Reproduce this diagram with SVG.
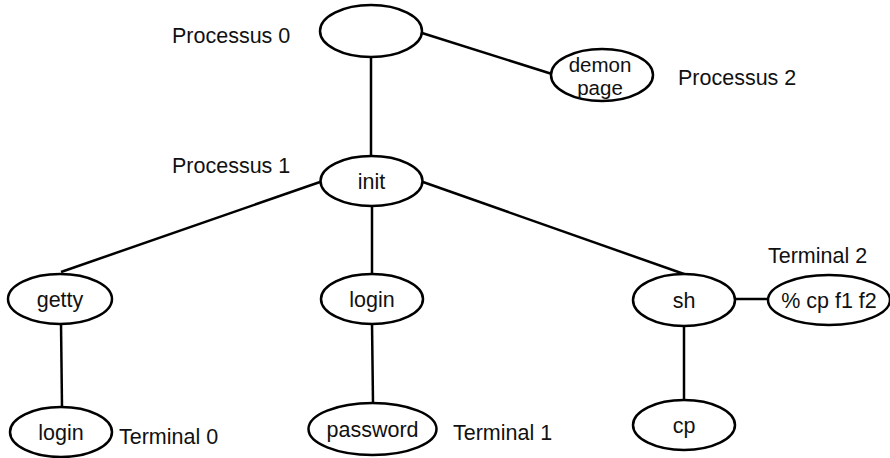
<svg xmlns="http://www.w3.org/2000/svg" width="890" height="458" viewBox="0 0 890 458">
  <style>
    .node ellipse { fill: #ffffff; stroke: #000000; stroke-width: 2.5; }
    .node text, .label { font-family: "Liberation Sans", Arial, sans-serif; font-size: 21.5px; fill: #111111; }
    .node text { text-anchor: middle; }
    #demon text { font-size: 20.5px; }
    #edges line { stroke: #000000; stroke-width: 2.5; }
  </style>
  <rect width="890" height="458" fill="#ffffff"/>

  <!-- connectors of the process tree -->
  <g id="edges">
    <line x1="422" y1="33" x2="552" y2="74"/>
    <line x1="371" y1="57" x2="371" y2="156"/>
    <line x1="320" y1="182" x2="61" y2="272"/>
    <line x1="372" y1="206" x2="372" y2="275"/>
    <line x1="423" y1="182" x2="684" y2="274"/>
    <line x1="61" y1="323" x2="62" y2="407"/>
    <line x1="372" y1="323" x2="373" y2="403"/>
    <line x1="684" y1="326" x2="684" y2="400"/>
    <line x1="735" y1="299" x2="768" y2="299"/>
  </g>

  <!-- process nodes -->
  <g id="proc0" class="node">
    <ellipse cx="371" cy="31" rx="51" ry="26"/>
  </g>
  <g id="demon" class="node">
    <ellipse cx="602" cy="75" rx="51" ry="26"/>
    <text x="600" y="71.5">demon</text>
    <text x="600" y="95">page</text>
  </g>
  <g id="init" class="node">
    <ellipse cx="371.5" cy="181" rx="51" ry="25"/>
    <text x="371.5" y="189">init</text>
  </g>
  <g id="getty" class="node">
    <ellipse cx="60" cy="299" rx="52" ry="25"/>
    <text x="60" y="307">getty</text>
  </g>
  <g id="login1" class="node">
    <ellipse cx="372" cy="299" rx="51" ry="25"/>
    <text x="372" y="307">login</text>
  </g>
  <g id="sh" class="node">
    <ellipse cx="684" cy="300" rx="51" ry="26"/>
    <text x="684" y="308">sh</text>
  </g>
  <g id="cpcmd" class="node">
    <ellipse cx="829" cy="300" rx="61" ry="25"/>
    <text x="829" y="308">% cp f1 f2</text>
  </g>
  <g id="login0" class="node">
    <ellipse cx="61" cy="432" rx="51" ry="25"/>
    <text x="61" y="440">login</text>
  </g>
  <g id="password" class="node">
    <ellipse cx="372.5" cy="429" rx="64" ry="26"/>
    <text x="372.5" y="437">password</text>
  </g>
  <g id="cp" class="node">
    <ellipse cx="684" cy="425" rx="51" ry="25"/>
    <text x="684" y="433">cp</text>
  </g>

  <!-- side labels -->
  <g id="labels">
    <text class="label" x="172" y="43">Processus 0</text>
    <text class="label" x="678" y="85">Processus 2</text>
    <text class="label" x="172" y="173">Processus 1</text>
    <text class="label" x="768" y="263">Terminal 2</text>
    <text class="label" x="119" y="444">Terminal 0</text>
    <text class="label" x="453" y="440">Terminal 1</text>
  </g>
</svg>
